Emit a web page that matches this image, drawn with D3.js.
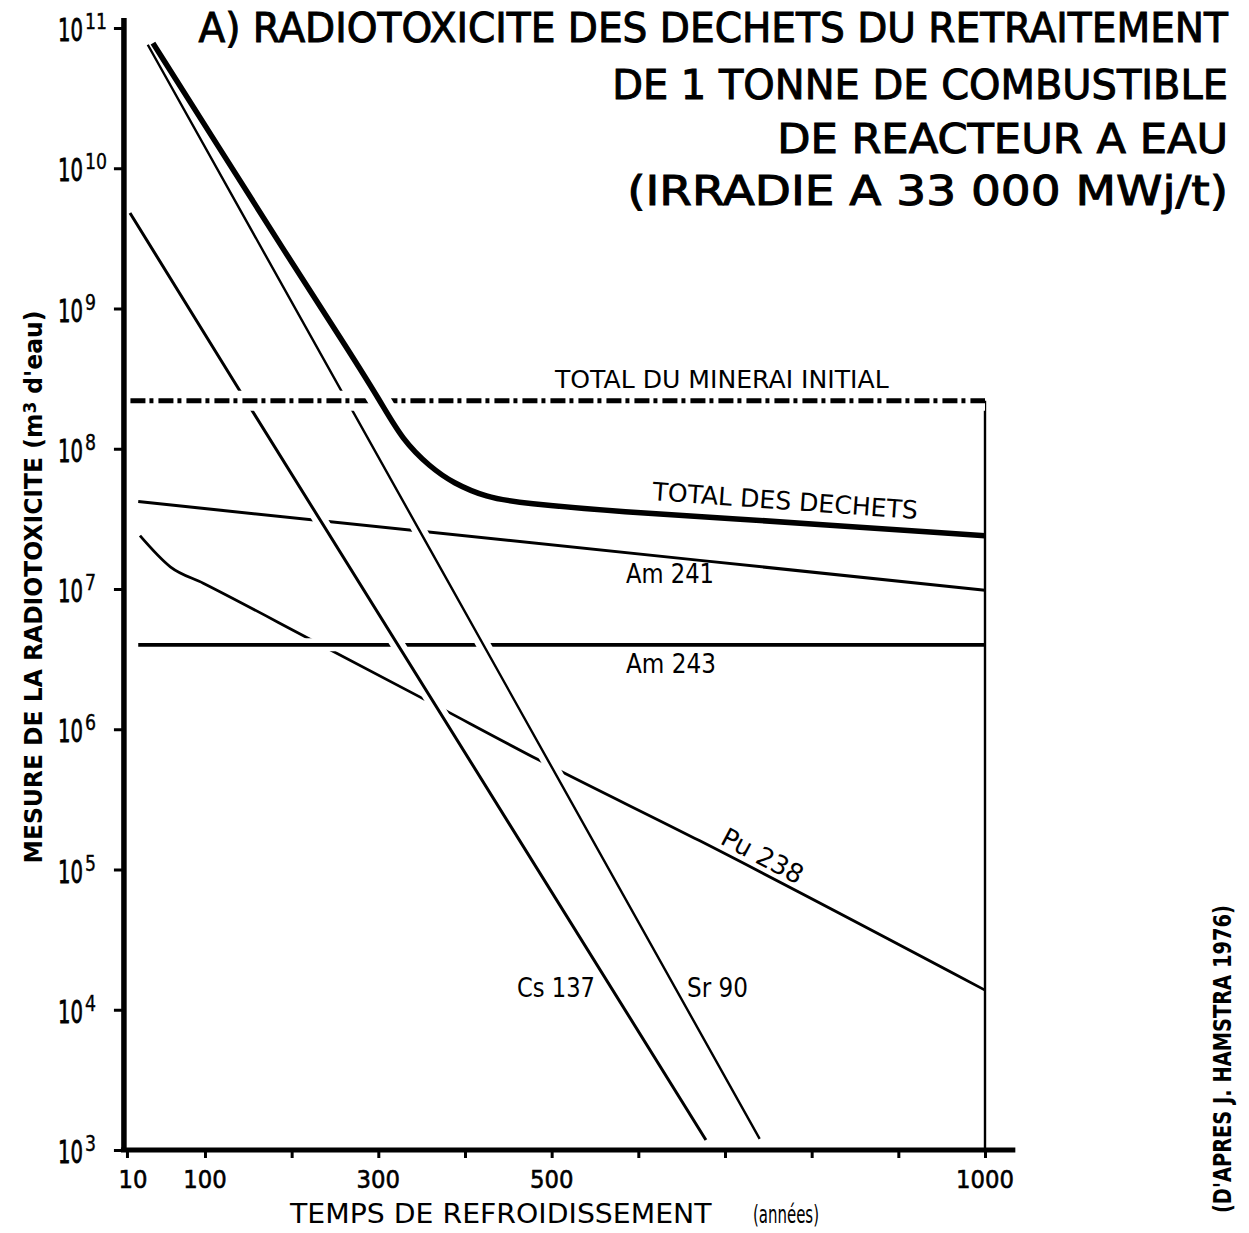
<!DOCTYPE html>
<html>
<head>
<meta charset="utf-8">
<script src="https://cdn.jsdelivr.net/npm/d3@7"></script>
<style>
body { margin: 0; background: #fff; }
text { font-family: "DejaVu Sans", sans-serif; fill: #000; }
</style>
</head>
<body>
<div id="chart"></div>
<script>
// values: [annees, m3 d'eau]
var totalDechets = [[40, 7.8e10], [118, 1.35e10], [191, 2.6e9], [265, 5.1e8], [302, 2.2e8],
    [328, 1.15e8], [360, 7.4e7], [386, 5.7e7], [425, 4.5e7], [463, 4.1e7], [594, 3.5e7],
    [671, 3.3e7], [1000, 2.4e7]];
var minerai = [[14, 2.2e8], [1000, 2.2e8]];
var sr90 = [[34, 7.6e10], [360, 1.9e7], [740, 1.2e3]];
var cs137 = [[13.5, 4.8e9], [140, 2.6e8], [678, 1.18e3]];
var am241 = [[23, 4.2e7], [671, 1.6e7], [1000, 9.8e6]];
var am243 = [[23, 4.0e6], [1000, 4.0e6]];
var pu238 = [[25, 2.4e7], [60, 1.44e7], [98, 1.1e7], [224, 4.3e6], [356, 1.6e6],
    [486, 6.0e5], [671, 1.6e5], [1000, 1.38e4]];

var xTicks = [10, 100, 200, 300, 400, 500, 600, 700, 800, 900, 1000];
var xLabels = [10, 100, 300, 500, 1000];
var yExponents = [3, 4, 5, 6, 7, 8, 9, 10, 11];

var titleLines = ["A) RADIOTOXICITE DES DECHETS DU RETRAITEMENT",
    "DE 1 TONNE DE COMBUSTIBLE",
    "DE REACTEUR A EAU",
    "(IRRADIE A 33 000 MWj/t)"];


//put a text in a group, then squeeze it to the wanted width
function label(parent, o) {
    var g = parent.append("g")
        .attr("transform", "translate(" + o.x + "," + o.y + ") rotate(" + (o.rotate || 0) + ")");
    var t = g.append("text")
        .attr("text-anchor", o.anchor || "start")
        .style("font-size", o.size + "px")
        .style("font-weight", o.weight || "normal");
    if (o.heavy) t.style("stroke", "#000").style("stroke-width", o.heavy);
    o.parts.forEach(function (p) {
        var s = t.append("tspan").text(p.t);
        if (p.sup) s.attr("baseline-shift", "35%").style("font-size", (o.size * 0.72) + "px");
    });
    if (o.width) {
        var w = t.node().getBBox().width;
        t.attr("transform", "scale(" + (o.width / w) + ",1)");
    }
    return t;
}

function drawChart() {
    var width = 1249,
        height = 1233;

    var svg = d3.select("#chart")
        .append("svg")
        .attr("width", width)
        .attr("height", height);

    var x = d3.scaleLinear().domain([0, 1000]).range([118.3, 985]);
    var y = d3.scaleLog().domain([1e3, 1e11]).range([1150, 28]);

    var line = d3.line()
        .x(function (d) { return x(d[0]); })
        .y(function (d) { return y(d[1]); });
    var smooth = d3.line()
        .curve(d3.curveMonotoneX)
        .x(function (d) { return x(d[0]); })
        .y(function (d) { return y(d[1]); });
    var soft = d3.line()
        .curve(d3.curveBasis)
        .x(function (d) { return x(d[0]); })
        .y(function (d) { return y(d[1]); });

    //draw a curve, optionally with a white band under it that cuts the lines it crosses
    function curve(data, gen, w, halo, extra) {
        if (halo) {
            svg.append("path").attr("d", gen(data))
                .attr("fill", "none").attr("stroke", "#fff")
                .attr("stroke-width", halo).attr("clip-path", extra || null);
        }
        return svg.append("path").attr("d", gen(data))
            .attr("fill", "none").attr("stroke", "#000")
            .attr("stroke-width", w).attr("stroke-linejoin", "round");
    }

    curve(pu238, smooth, 2.8);
    curve(am241, line, 3);
    curve(am243, line, 3.8, 13);
    curve(cs137, line, 3, 14);
    curve(sr90, line, 2.4, 14);

    //vertical line at 1000 years
    svg.append("line")
        .attr("x1", x(1000)).attr("x2", x(1000))
        .attr("y1", y(minerai[1][1])).attr("y2", y(1e3))
        .attr("stroke", "#000").attr("stroke-width", 2.4);

    curve(minerai, line, 5, 20).attr("stroke-dasharray", "15,4,4,5");

    //total only cuts the dash-dot line
    svg.append("clipPath").attr("id", "band")
        .append("rect")
        .attr("x", 0).attr("width", width)
        .attr("y", y(minerai[0][1]) - 6).attr("height", 12);
    curve(totalDechets, soft, 5.5, 22, "url(#band)");

    //axes
    var y0 = x(6.5);
    var yAxis = svg.append("g")
        .attr("transform", "translate(" + y0 + ",0)")
        .call(d3.axisLeft(y).tickValues(yExponents.map(function (e) { return Math.pow(10, e); }))
            .tickSize(10).tickFormat(""));
    yAxis.select(".domain").remove();
    yAxis.selectAll(".tick line").attr("stroke-width", 3);

    var xAxis = svg.append("g")
        .attr("transform", "translate(0," + y(1e3) + ")")
        .call(d3.axisBottom(x).tickValues(xTicks).tickSize(8).tickFormat(""));
    xAxis.select(".domain").remove();
    xAxis.selectAll(".tick line").attr("stroke-width", 3);

    svg.append("line")
        .attr("x1", y0).attr("x2", y0)
        .attr("y1", y(1e11) - 10).attr("y2", y(1e3) + 2)
        .attr("stroke", "#000").attr("stroke-width", 5.5);
    svg.append("line")
        .attr("x1", y0 - 3).attr("x2", x(1035))
        .attr("y1", y(1e3)).attr("y2", y(1e3))
        .attr("stroke", "#000").attr("stroke-width", 5);

    //tick labels
    yExponents.forEach(function (e) {
        var py = y(Math.pow(10, e));
        label(svg, { x: 58, y: py + 13, size: 32, width: 25, heavy: 0.8, parts: [{ t: "10" }] });
        label(svg, { x: 85, y: py + 1, size: 22, width: String(e).length * 11, heavy: 0.4, parts: [{ t: String(e) }] });
    });
    xLabels.forEach(function (v) {
        label(svg, { x: x(v) + (v === 10 ? 6 : 0), y: 1188, size: 25, anchor: "middle", heavy: 0.6,
            width: String(v).length * 14.5, parts: [{ t: String(v) }] });
    });

    //axis titles
    label(svg, { x: 42, y: 587, rotate: -90, size: 24, weight: "bold", anchor: "middle", width: 553,
        parts: [{ t: "MESURE DE LA RADIOTOXICITE (m" }, { t: "3", sup: true }, { t: " d'eau)" }] });
    label(svg, { x: 290, y: 1223, size: 26, width: 423, parts: [{ t: "TEMPS DE REFROIDISSEMENT" }] });
    label(svg, { x: 753, y: 1223, size: 25, width: 66, parts: [{ t: "(années)" }] });

    //title
    var titleWidths = [1031, 616, 451, 601];
    var titleBase = [42, 99, 153, 205];
    titleLines.forEach(function (s, i) {
        label(svg, { x: 1228, y: titleBase[i], size: 41, anchor: "end", heavy: 1,
            width: titleWidths[i], parts: [{ t: s }] });
    });

    //source
    label(svg, { x: 1231, y: 1213, rotate: -90, size: 24, weight: "bold", width: 308,
        parts: [{ t: "(D'APRES J. HAMSTRA 1976)" }] });

    //curve names
    label(svg, { x: 555, y: 388, size: 25, width: 335, parts: [{ t: "TOTAL DU MINERAI INITIAL" }] });
    label(svg, { x: 652, y: 500, rotate: 4.1, size: 25, width: 267, parts: [{ t: "TOTAL DES DECHETS" }] });
    label(svg, { x: 626, y: 583, size: 26, width: 88, parts: [{ t: "Am 241" }] });
    label(svg, { x: 626, y: 673, size: 26, width: 90, parts: [{ t: "Am 243" }] });
    label(svg, { x: 719, y: 843, rotate: 28, size: 26, width: 89, parts: [{ t: "Pu 238" }] });
    label(svg, { x: 517, y: 997, size: 27, width: 78, parts: [{ t: "Cs 137" }] });
    label(svg, { x: 687, y: 997, size: 27, width: 61, parts: [{ t: "Sr 90" }] });
}

window.onload = drawChart;
</script>
</body>
</html>
